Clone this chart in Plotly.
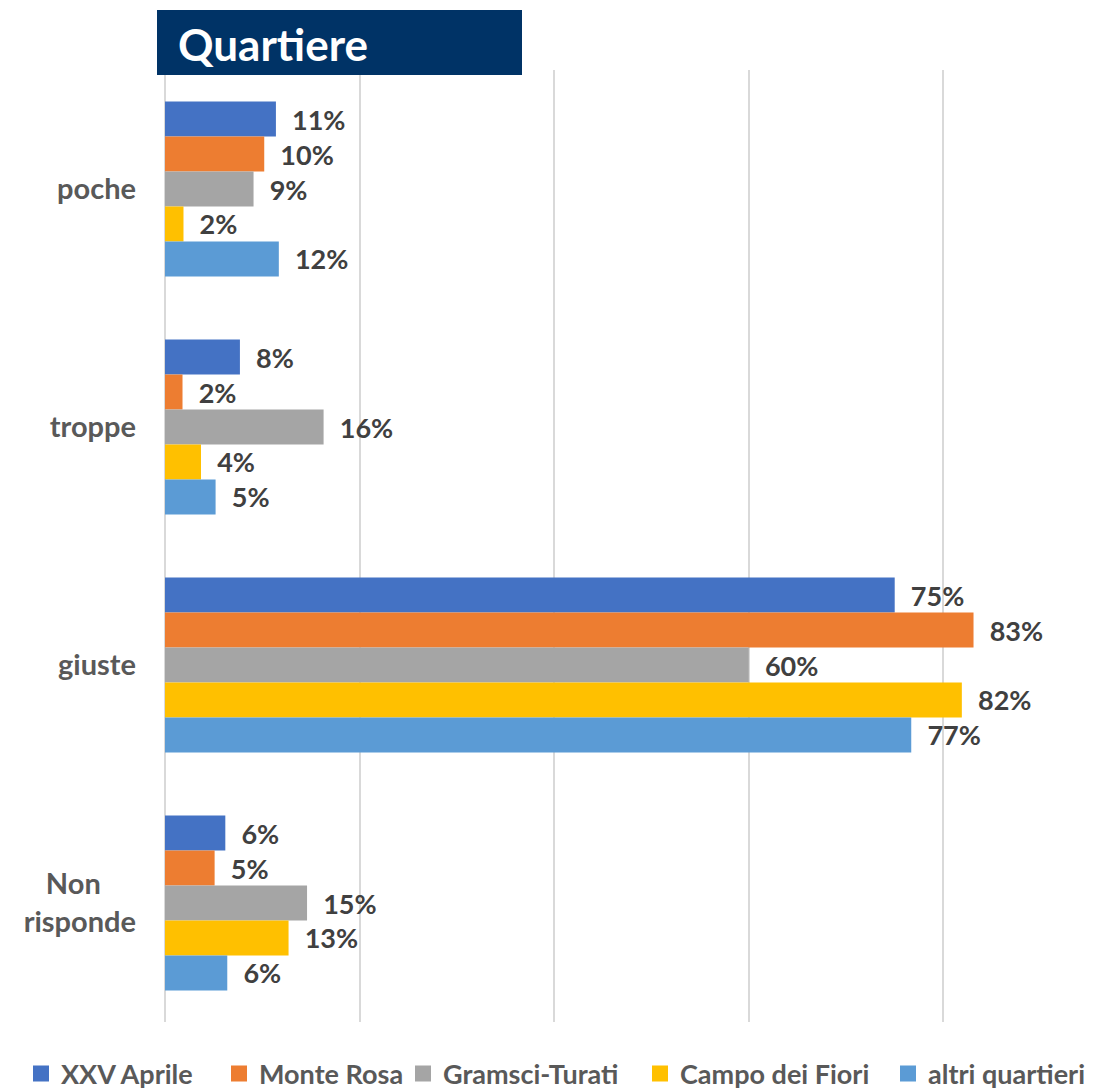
import plotly.graph_objects as go

# categorie (dall'alto in basso) e serie
categorie = ['poche', 'troppe', 'giuste', 'Non risponde']
etichette_cat = ['poche', 'troppe', 'giuste',
                 'Non' + '&nbsp;' * 5 + '<br>risponde']

quartieri = ['XXV Aprile', 'Monte Rosa', 'Gramsci-Turati',
             'Campo dei Fiori', 'altri quartieri']
colori = ['#4472C4', '#ED7D31', '#A5A5A5', '#FFC000', '#5B9BD5']

xxv_aprile = [0.114, 0.077, 0.750, 0.062]
monte_rosa = [0.102, 0.018, 0.831, 0.051]
gramsci_turati = [0.091, 0.163, 0.600, 0.146]
campo_fiori = [0.019, 0.037, 0.819, 0.127]
altri_quartieri = [0.117, 0.052, 0.767, 0.064]

serie = [xxv_aprile, monte_rosa, gramsci_turati, campo_fiori, altri_quartieri]

FONT = 'Lato'
# la pagina ha 8px di margine: la figura parte da (8, 8)
W, H = 1101, 1083
ML, MR, MT, MB = 157, 9, 62, 69
PW, PH = W - ML - MR, H - MT - MB

# posizione (px) del simbolo di ogni voce della legenda
leg_x = [13, 211, 395, 632, 880]
leg_y = 1066

fig = go.Figure()
for i, (nome, valori, col) in enumerate(zip(quartieri, serie, colori)):
    fig.add_trace(go.Bar(
        y=categorie, x=valori, name=nome, orientation='h',
        marker=dict(color=col, line=dict(width=0)),
        texttemplate='  %{x:.0%}', textposition='outside',
        textfont=dict(family=FONT, size=27, color='#404040', weight='bold'),
        cliponaxis=False, showlegend=False,
    ))
    # voce di legenda con quadratino pieno
    lid = 'legend' if i == 0 else f'legend{i + 1}'
    fig.add_trace(go.Scatter(
        x=[None], y=[None], mode='markers', name=nome, legend=lid,
        marker=dict(symbol='square', size=17, color=col),
        showlegend=True, hoverinfo='skip',
    ))

legend_style = dict(orientation='h', xref='container', yref='container',
                    xanchor='left', yanchor='middle', itemwidth=30,
                    bgcolor='rgba(0,0,0,0)',
                    font=dict(family=FONT, size=27, color='#595959', weight='bold'))
legends = {}
for i, lx in enumerate(leg_x):
    key = 'legend' if i == 0 else f'legend{i + 1}'
    legends[key] = dict(legend_style, x=lx / W, y=(H - leg_y) / H)

fig.update_layout(
    width=W, height=H,
    margin=dict(l=ML, r=MR, t=MT, b=MB),
    barmode='group', bargap=0.265, bargroupgap=0,
    plot_bgcolor='white', paper_bgcolor='white',
    font=dict(family=FONT, color='#595959'),
    xaxis=dict(range=[0, 0.961], dtick=0.2, tick0=0, showticklabels=False,
               showgrid=True, gridcolor='#D9D9D9', gridwidth=1.5,
               zeroline=True, zerolinecolor='#D9D9D9', zerolinewidth=1.5,
               showline=False, ticks=''),
    yaxis=dict(autorange='reversed', tickmode='array', tickvals=categorie,
               ticktext=etichette_cat, ticks='', ticklabelstandoff=28,
               tickfont=dict(family=FONT, size=29, color='#595959', weight='bold'),
               showgrid=False, showline=False),
    showlegend=True,
    **legends,
)

# riquadro del titolo
fig.add_shape(type='rect', xref='paper', yref='paper',
              x0=(149 - ML) / PW, x1=(514 - ML) / PW,
              y0=(H - MB - 67) / PH, y1=(H - MB - 2) / PH,
              fillcolor='#003366', line=dict(width=0), layer='above')
fig.add_annotation(text='Quartiere', xref='paper', yref='paper',
                   x=(168 - ML) / PW, xanchor='left',
                   y=(H - MB - 36) / PH, yanchor='middle',
                   showarrow=False,
                   font=dict(family=FONT, size=44, color='white', weight='bold'))

fig.write_html('out.html')
